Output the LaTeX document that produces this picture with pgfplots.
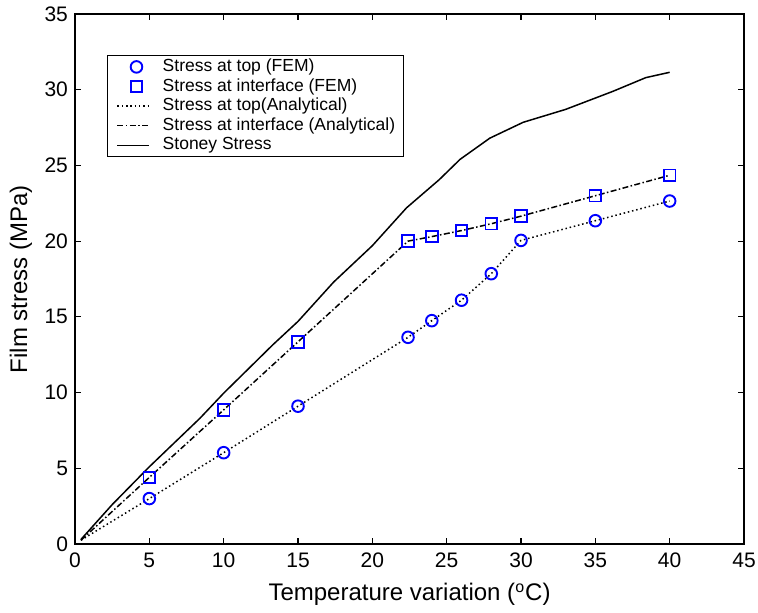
\documentclass[border=0pt]{standalone}
\usepackage{fontspec}
\setmainfont{Liberation Sans}
\usepackage{pgfplots}
\pgfplotsset{compat=1.18}
\definecolor{mblue}{RGB}{0,0,255}
\pgfplotsset{
  lineleg/.style={legend image code/.code={\path (0pt,0pt); \draw[##1] (1pt,0pt) -- (17pt,0pt); \path (22.5pt,0pt);}},
  markleg/.style={legend image code/.code={\path (0pt,0pt); \draw[##1] plot coordinates {(10.5pt,0pt)}; \path (22.5pt,0pt);}},
  circ/.style={only marks, mark=o, mark size=2.9pt, line width=0.95pt, mark options={draw=mblue, solid}},
  sq/.style={only marks, mark=square, mark size=2.9pt, line width=0.95pt, mark options={draw=mblue, solid}},
  dotl/.style={black, line width=0.75pt, dash pattern=on 0.75pt off 1.4pt},
  dashdotl/.style={black, line width=0.75pt, dash pattern=on 3pt off 1.2pt on 0.75pt off 1.2pt},
  solidl/.style={black, line width=0.75pt},
}
\pgfplotstableread{
x y
5 3.0
10 6.03
15 9.1
22.4 13.65
24 14.75
26 16.1
28 17.85
30 20.05
35 21.35
40 22.65
}\topfem
\pgfplotstableread{
x y
5 4.4
10 8.86
15 13.35
22.4 20.0
24 20.3
26 20.7
28 21.15
30 21.65
35 23.0
40 24.35
}\intfem
\pgfplotstableread{
x y
0.4 0.25
5 3.0
10 6.03
15 9.1
22.4 13.65
24 14.75
26 16.1
28 17.85
30 20.05
35 21.35
40 22.65
}\topana
\pgfplotstableread{
x y
0.4 0.25
5 4.4
10 8.86
15 13.35
22.4 20.0
24 20.3
26 20.7
28 21.15
30 21.65
35 23.0
40 24.35
}\intana
\pgfplotstableread{
x y
0.4 0.3
2.5 2.6
5 5.1
8.4 8.3
10 9.96
13.3 13.15
15 14.7
17.4 17.3
20 19.7
22.3 22.2
24.5 24.06
25.9 25.4
27.9 26.8
30.15 27.85
33 28.7
36.2 29.9
38.4 30.8
40 31.15
}\stoney
\begin{document}
\begin{tikzpicture}
\useasboundingbox (-37.5pt,-34pt) rectangle (341.5pt,272pt);
\begin{axis}[
  scale only axis,
  width=334.5pt, height=265pt,
  at={(0,0)}, anchor=south west,
  xmin=0, xmax=45, ymin=0, ymax=35,
  xtick={0,5,...,45}, ytick={0,5,...,35},
  tick align=inside,
  major tick length=3pt,
  every tick/.style={black, line width=0.6pt},
  axis line style={line width=1.2pt},
  /pgf/number format/assume math mode=true,
  tick label style={font=\fontsize{10.5}{12}\selectfont},
  xticklabel style={yshift=-1pt},
  xlabel={Temperature variation (\textsuperscript{o}C)},
  ylabel={Film stress (MPa)},
  label style={font=\fontsize{12}{14}\selectfont},
  xlabel style={at={(axis description cs:0.5,-0.0957)}, anchor=center},
  ylabel style={at={(axis description cs:-0.0808,0.5)}, anchor=center},
  legend style={at={(axis description cs:0.0479,0.923)}, anchor=north west,
    draw=black, line width=0.5pt, font=\fontsize{8.75}{10}\selectfont,
    nodes={inner sep=0.65pt, text height=6.5pt, text depth=2pt},
    row sep=0pt, inner xsep=3.5pt, inner ysep=0.9pt},
  legend cell align=left,
]
\addlegendimage{circ, markleg}
\addlegendentry{Stress at top (FEM)}
\addlegendimage{sq, markleg}
\addlegendentry{Stress at interface (FEM)}
\addlegendimage{dotl, lineleg}
\addlegendentry{Stress at top(Analytical)}
\addlegendimage{dashdotl, lineleg}
\addlegendentry{Stress at interface (Analytical)\hspace{2.5pt}}
\addlegendimage{solidl, lineleg}
\addlegendentry{Stoney Stress}
\addplot[dotl, forget plot] table {\topana};
\addplot[dashdotl, forget plot] table {\intana};
\addplot[solidl, forget plot] table {\stoney};
\addplot[circ, forget plot] table {\topfem};
\addplot[sq, forget plot] table {\intfem};
\end{axis}
\end{tikzpicture}
\end{document}
